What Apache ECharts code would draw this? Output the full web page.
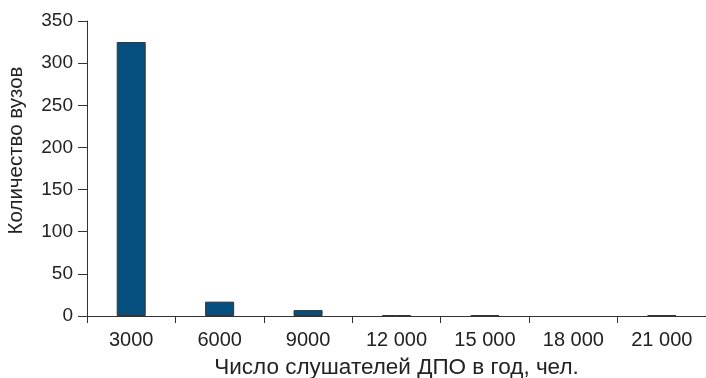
<!DOCTYPE html>
<html><head><meta charset="utf-8">
<script src="https://cdn.jsdelivr.net/npm/echarts@6/dist/echarts.min.js"></script>
<style>html,body{margin:0;padding:0;background:#fff}#c{width:706px;height:378px}</style>
</head><body><div id="c"></div>
<script>
const categories = ['3000', '6000', '9000', '12 000', '15 000', '18 000', '21 000'];
const counts = [325, 17, 7, 1, 1, 0, 1];
const yTicks = { min: 0, max: 350, interval: 50 };
const xTitle = 'Число слушателей ДПО в год, чел.';
const yTitle = 'Количество вузов';

const font = 'Liberation Sans, Arial, sans-serif';
const chart = echarts.init(document.getElementById('c'));
chart.setOption({
  animation: false,
  grid: { left: 87, right: 0, top: 21, bottom: 62, outerBoundsMode: 'none', containLabel: false },
  xAxis: {
    type: 'category', data: categories,
    name: xTitle, nameLocation: 'middle', nameGap: 40,
    nameTextStyle: { fontFamily: font, fontSize: 22.5, color: '#222' },
    axisLine: { lineStyle: { color: '#333', width: 1 } },
    axisTick: { show: true, length: 7, lineStyle: { color: '#333' } },
    axisLabel: { fontFamily: font, fontSize: 20, color: '#222', margin: 14 }
  },
  yAxis: {
    type: 'value', min: yTicks.min, max: yTicks.max, interval: yTicks.interval,
    name: yTitle, nameLocation: 'middle', nameGap: 60,
    nameTextStyle: { fontFamily: font, fontSize: 20.5, color: '#222', padding: [0, 0, 0, 36] },
    axisLine: { show: true, lineStyle: { color: '#333', width: 1 } },
    axisTick: { show: true, length: 9, lineStyle: { color: '#333' } },
    axisLabel: { fontFamily: font, fontSize: 19, color: '#222', margin: 14 },
    splitLine: { show: false }
  },
  series: [{
    type: 'bar', barWidth: 29,
    data: counts.map(v => ({ value: v, itemStyle: v === 0 ? { borderWidth: 0 } : undefined })),
    itemStyle: { color: '#05507f', borderColor: '#333', borderWidth: 1 }
  }]
});
</script></body></html>
